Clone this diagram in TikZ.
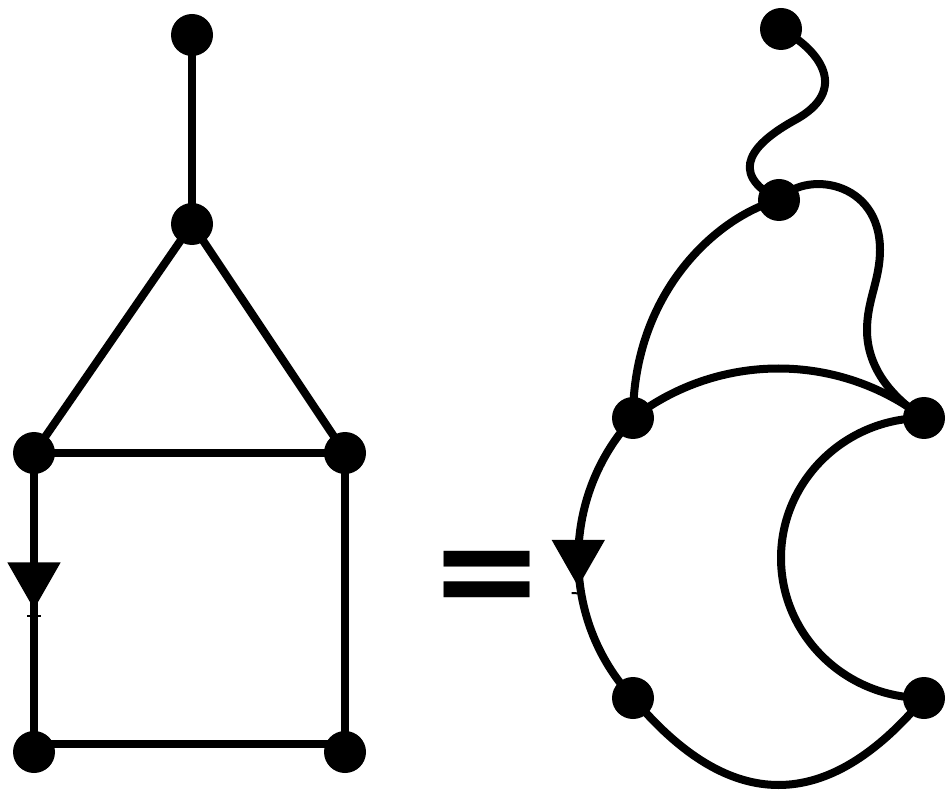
\documentclass[tikz,border=0pt]{standalone}
\usepackage{fontspec}
\newfontfamily\eqfont{DejaVu Sans}
\usetikzlibrary{decorations.markings}
\pgfdeclarelayer{edges}
\pgfsetlayers{edges,main}
\tikzset{
  dot/.style={circle, fill=black, inner sep=0pt, minimum size=31.5pt},
  edge/.style={line width=6pt, black},
  tri/.style 2 args={postaction={decorate}, decoration={markings, mark=at position #1 with {
      \fill (#2,0pt) -- ++(-35pt,20pt) -- ++(0pt,-40pt) -- cycle;
      \draw[line width=1.5pt] (#2,-5pt) ++(5pt,0pt) -- ++(0pt,10pt);
  }}}
}
\begin{document}
\begin{tikzpicture}[x=0.75pt, y=-0.75pt]
\useasboundingbox (0,0) rectangle (946,791);
% left graph
\node[dot] (n1) at (192,35) {};
\node[dot] (n2) at (192,224) {};
\node[dot] (n3) at (34,453) {};
\node[dot] (n4) at (345,453) {};
\node[dot] (n5) at (34,752) {};
\node[dot] (n6) at (345,752) {};
% right graph
\node[dot] (A) at (781,29) {};
\node[dot] (B) at (779,200) {};
\node[dot] (D) at (633,418) {};
\node[dot] (C) at (924,418) {};
\node[dot] (E) at (633,698) {};
\node[dot] (F) at (924,698) {};
% equals
\node[font=\eqfont\bfseries\fontsize{103pt}{103pt}\selectfont, inner sep=0pt, anchor=base] (eq) at (487,617) {=};
\begin{pgfonlayer}{edges}
\draw[edge] (n1.center) -- (n2.center);
\draw[edge] (n2.center) -- (n3.center);
\draw[edge] (n2.center) -- (n4.center);
\draw[edge] (n3.center) -- (n4.center);
\draw[edge, tri={0.522}{0pt}] (n3.center) -- (n5.center);
\draw[edge] (n4.center) -- (n6.center);
\draw[edge] ([yshift=6pt]n5.center) -- ([yshift=6pt]n6.center);
% right edges
\draw[edge] (A.center) .. controls (820,50) and (850,90) .. (795,120)
   .. controls (755,142) and (725,172) .. (B.center);
\draw[edge] (B.center) .. controls (720,215) and (633,290) .. (D.center);
\draw[edge] (B.center) .. controls (805,170) and (880,180) .. (880,250)
   .. controls (880,280) and (867,300) .. (867,330)
   .. controls (867,370) and (895,400) .. (C.center);
\draw[edge] (D.center) .. controls (719,352) and (838,352) .. (C.center);
\draw[edge, tri={0.5}{21.4pt}] (D.center) .. controls (560,497) and (560,620) .. (E.center);
\draw[edge] (E.center) .. controls (730,814) and (827,814) .. (F.center);
\draw[edge] (C.center) .. controls (845,418) and (781,481) .. (781,558)
   .. controls (781,635) and (845,698) .. (F.center);
\end{pgfonlayer}
\end{tikzpicture}
\end{document}
